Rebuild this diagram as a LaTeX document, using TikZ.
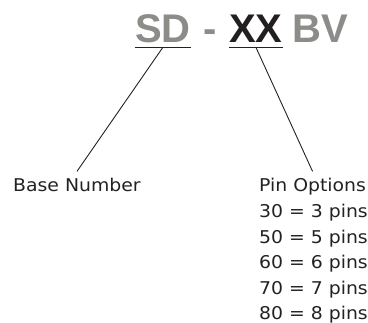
\documentclass[tikz,border=0pt]{standalone}
\usepackage{fontspec}
\setmainfont{DejaVu Sans}
\newfontfamily\labelfont[FakeStretch=1.07]{DejaVu Sans}
\newfontfamily\headfont{Liberation Sans}
\definecolor{codegray}{HTML}{8C8C89}
\definecolor{codedark}{HTML}{231F20}
\definecolor{linedark}{HTML}{222222}
\tikzset{
  headpart/.style={font=\headfont\bfseries\fontsize{40}{46}\selectfont, inner xsep=0pt, inner ysep=4pt, text depth=0pt, anchor=base west},
  labeltext/.style={font=\labelfont\fontsize{17.6}{25.6}\selectfont, inner xsep=0pt, inner ysep=7pt, text depth=0pt, anchor=base west, text=linedark},
  listtext/.style={font=\labelfont\fontsize{17.6}{25.6}\selectfont, inner sep=0pt, anchor=base west, text=linedark},
  leader/.style={draw=linedark, line width=0.9pt},
  uline/.style={draw=linedark, line width=1pt}
}
\begin{document}
\begin{tikzpicture}[x=1pt,y=-1pt]
\useasboundingbox (0,0) rectangle (368,323);
\node[headpart, text=codegray] (sd) at (135,43) {SD};
\node[headpart, text=codegray] (dash) at (203,43) {-};
\node[headpart, text=codedark] (xx) at (229,43) {XX};
\node[headpart, text=codegray] (bv) at (292,43) {BV};
\draw[uline] (sd.south west) -- (sd.south east);
\draw[uline] (xx.south west) -- (xx.south east);
\node[labeltext] (base) at (13,192) {Base Number};
\node[labeltext] (pinhead) at (259,192) {Pin Options};
\node[listtext] (pin3) at (259,217.6) {30 = 3 pins};
\node[listtext] (pin5) at (259,243.2) {50 = 5 pins};
\node[listtext] (pin6) at (259,268.8) {60 = 6 pins};
\node[listtext] (pin7) at (259,294.4) {70 = 7 pins};
\node[listtext] (pin8) at (259,320) {80 = 8 pins};
\draw[leader] (sd.south) -- (base.north);
\draw[leader] (xx.south) -- (pinhead.north);
\end{tikzpicture}
\end{document}
